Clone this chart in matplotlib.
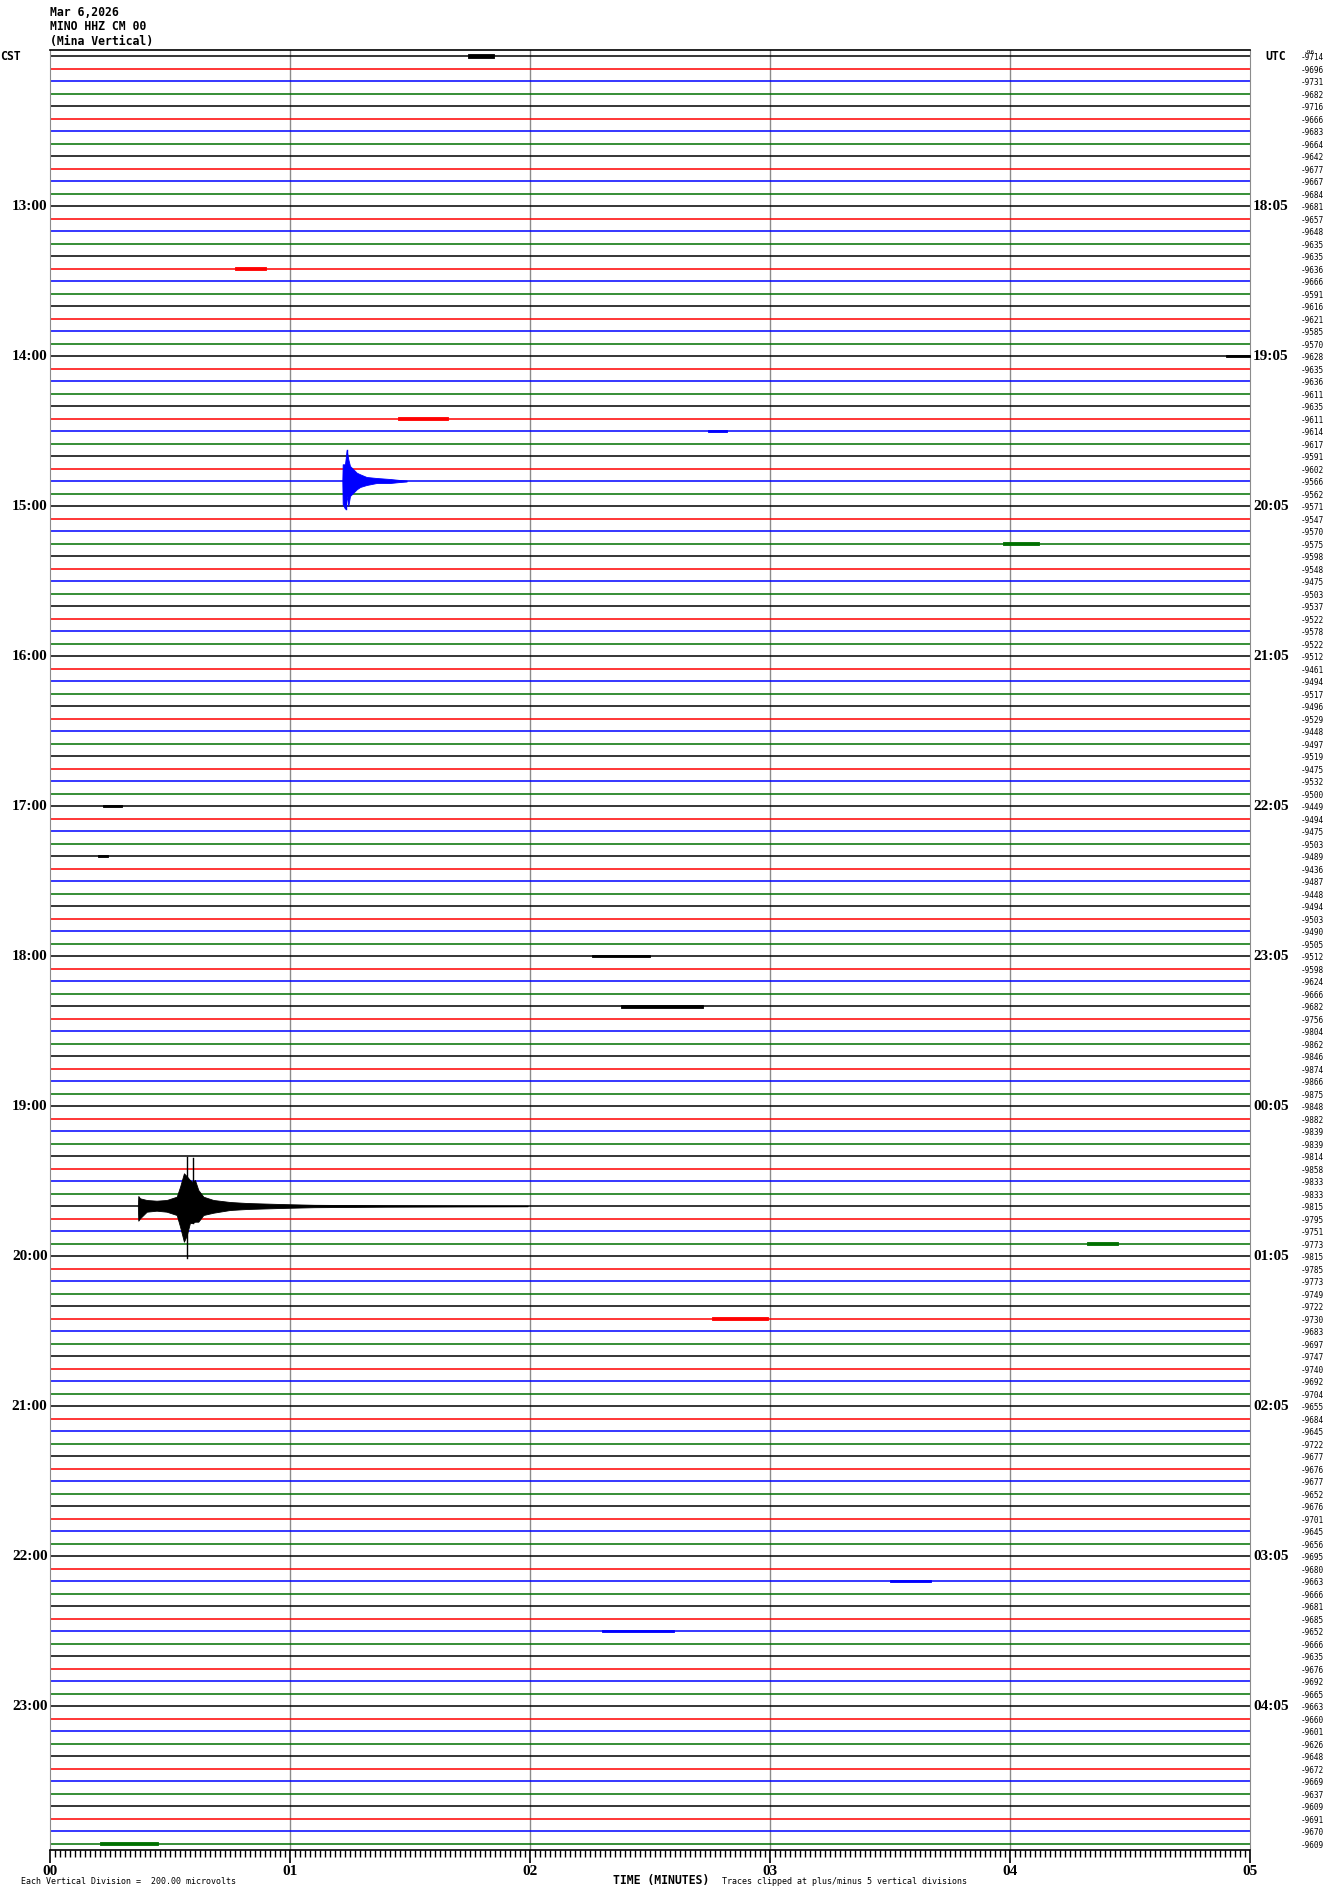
import matplotlib.pyplot as plt
import numpy as np

# helicorder: 144 traces of 5 minutes, 12:00 - 23:55 CST
n_traces = 144
trace_colors = ['#000000', '#ff0000', '#0000ff', '#007000']

cst_hours = ['13:00', '14:00', '15:00', '16:00', '17:00', '18:00',
             '19:00', '20:00', '21:00', '22:00', '23:00']
utc_hours = ['18:05', '19:05', '20:05', '21:05', '22:05', '23:05',
             '00:05', '01:05', '02:05', '03:05', '04:05']
minute_labels = ['00', '01', '02', '03', '04', '05']

counts = [
    -9714, -9696, -9731, -9682, -9716, -9666, -9683, -9664, -9642, -9677, -9667, -9684,
    -9681, -9657, -9648, -9635, -9635, -9636, -9666, -9591, -9616, -9621, -9585, -9570,
    -9628, -9635, -9636, -9611, -9635, -9611, -9614, -9617, -9591, -9602, -9566, -9562,
    -9571, -9547, -9570, -9575, -9598, -9548, -9475, -9503, -9537, -9522, -9578, -9522,
    -9512, -9461, -9494, -9517, -9496, -9529, -9448, -9497, -9519, -9475, -9532, -9500,
    -9449, -9494, -9475, -9503, -9489, -9436, -9487, -9448, -9494, -9503, -9490, -9505,
    -9512, -9598, -9624, -9666, -9682, -9756, -9804, -9862, -9846, -9874, -9866, -9875,
    -9848, -9882, -9839, -9839, -9814, -9858, -9833, -9833, -9815, -9795, -9751, -9773,
    -9815, -9785, -9773, -9749, -9722, -9730, -9683, -9697, -9747, -9740, -9692, -9704,
    -9655, -9684, -9645, -9722, -9677, -9676, -9677, -9652, -9676, -9701, -9645, -9656,
    -9695, -9680, -9663, -9666, -9681, -9685, -9652, -9666, -9635, -9676, -9692, -9665,
    -9663, -9660, -9601, -9626, -9648, -9672, -9669, -9637, -9609, -9691, -9670, -9609,
]

# small bursts: trace, start/end minute, half amplitude (pixels)
burst_trace = [0, 17, 29, 30, 39, 60, 64, 72, 76, 95, 101, 122, 126, 143, 24]
burst_start = [1.74, 0.77, 1.45, 2.74, 3.97, 0.22, 0.20, 2.26, 2.38, 4.32, 2.76, 3.50, 2.30, 0.21, 4.90]
burst_end = [1.85, 0.90, 1.66, 2.82, 4.12, 0.30, 0.24, 2.50, 2.72, 4.45, 2.99, 3.67, 2.60, 0.45, 5.00]
burst_amp = [2, 1.2, 1.4, 1, 1.2, 1.2, 1.2, 1, 1.5, 1.2, 1.2, 1.2, 1.2, 1.5, 1.2]

# local quake on the blue trace at 14:50 (envelope, pixels)
quake_blue_trace = 34
quake_blue_t = [1.218, 1.2195, 1.229, 1.236, 1.243, 1.25, 1.264, 1.278, 1.292,
                1.319, 1.361, 1.417, 1.458, 1.486]
quake_blue_up = [0, 16.7, 16.7, 30.7, 21.7, 15, 11.7, 8.3, 6.7, 4, 3, 2, 1, 0.5]
quake_blue_dn = [0, 23, 27.7, 15, 25, 15, 11.7, 8.3, 6, 4, 2, 2, 1, 0.5]

# larger quake on the black trace at 19:40 (envelope, pixels)
quake_black_trace = 92
quake_black_t = [0.366, 0.368, 0.375, 0.403, 0.444, 0.486, 0.528, 0.542, 0.558,
                 0.569, 0.583, 0.594, 0.604, 0.618, 0.639, 0.681, 0.75, 0.82,
                 0.958, 1.1, 1.4, 1.99]
quake_black_up = [0, 10, 7.7, 6, 5.3, 6, 9.3, 19.3, 32.7, 30, 26, 24, 26, 16,
                  9.3, 6, 4, 3, 2, 1.2, 0.7, 0.3]
quake_black_dn = [0, 14.7, 12.3, 5.7, 4.7, 5.7, 9, 20.7, 35.7, 30, 17, 17,
                  15.7, 15.7, 9, 6.7, 4, 3, 2, 1.2, 0.7, 0.3]
spike_t = [0.569, 0.594, 1.236, 1.232]
spike_trace = [92, 92, 34, 34]
spike_up = [49.3, 47.7, 30.7, 10]
spike_dn = [52.3, 17, 10, 27.7]

PX = 12.5  # pixels between traces

fig = plt.figure(figsize=(13.3, 18.94), dpi=100)
ax = fig.add_axes([50 / 1330, 1 - 1850 / 1894, 1200 / 1330, 1800 / 1894])
ax.set_xlim(0, 5)
ax.set_ylim(143.52, -0.48)

for m in range(1, 5):
    ax.axvline(m, color='#8c8c8c', lw=1.0, zorder=1)

for i in range(n_traces):
    ax.plot([0, 5], [i, i], color=trace_colors[i % 4], lw=1.1, zorder=2)

for tr, t0, t1, a in zip(burst_trace, burst_start, burst_end, burst_amp):
    ax.fill_between([t0, t1], [tr - a / PX] * 2, [tr + a / PX] * 2,
                    color=trace_colors[tr % 4], lw=0.6, zorder=3)

for tr, t, up, dn in [(quake_blue_trace, quake_blue_t, quake_blue_up, quake_blue_dn),
                      (quake_black_trace, quake_black_t, quake_black_up, quake_black_dn)]:
    t = np.array(t)
    ax.fill_between(t, tr - np.array(up) / PX, tr + np.array(dn) / PX,
                    color=trace_colors[tr % 4], lw=0.6, zorder=3)

for t, tr, up, dn in zip(spike_t, spike_trace, spike_up, spike_dn):
    ax.plot([t, t], [tr - up / PX, tr + dn / PX], color=trace_colors[tr % 4],
            lw=1.0, zorder=3)

# hour labels
for k, (c, u) in enumerate(zip(cst_hours, utc_hours)):
    y = 12 * (k + 1)
    ax.text(-0.01, y, c, ha='right', va='center', fontsize=11,
            family='Liberation Serif', weight='bold')
    ax.text(5.013, y, u, ha='left', va='center', fontsize=11,
            family='Liberation Serif', weight='bold')

for i, v in enumerate(counts):
    ax.text(5.21, i + 0.12, str(v), ha='left', va='center', fontsize=5.6,
            family='DejaVu Sans Mono')
ax.text(5.225, -0.3, '-96', ha='left', va='center', fontsize=4.5,
        family='DejaVu Sans Mono')

# frame and axis
for s in ['left', 'right']:
    ax.spines[s].set_color('#8c8c8c')
ax.spines['top'].set_linewidth(1.2)
ax.spines['bottom'].set_linewidth(1.2)
ax.set_yticks([])
ax.set_xticks(range(6))
ax.set_xticklabels(minute_labels, family='Liberation Serif', weight='bold', fontsize=11)
ax.set_xticks(np.arange(0, 5.01, 1 / 48), minor=True)
ax.tick_params(axis='x', which='major', length=9, width=1.2, pad=2)
ax.tick_params(axis='x', which='minor', length=5, width=1.0)

mono = 'DejaVu Sans Mono'
fig.text(50 / 1330, 1 - 12 / 1894, 'Mar 6,2026', fontsize=8.3, family=mono,
         weight='bold', va='center')
fig.text(50 / 1330, 1 - 27 / 1894, 'MINO HHZ CM 00', fontsize=8.3, family=mono,
         weight='bold', va='center')
fig.text(50 / 1330, 1 - 42 / 1894, '(Mina Vertical)', fontsize=8.3, family=mono,
         weight='bold', va='center')
fig.text(0, 1 - 57 / 1894, 'CST', fontsize=8.3, family=mono, weight='bold', va='center')
fig.text(1265 / 1330, 1 - 57 / 1894, 'UTC', fontsize=8.3, family=mono, weight='bold',
         va='center')
fig.text(21 / 1330, 1 - 1881 / 1894, 'Each Vertical Division =  200.00 microvolts',
         fontsize=6, family=mono, va='center')
fig.text(613 / 1330, 1 - 1880 / 1894, 'TIME (MINUTES)', fontsize=8.3,
         family=mono, weight='bold', va='center')
fig.text(722 / 1330, 1 - 1881 / 1894,
         'Traces clipped at plus/minus 5 vertical divisions',
         fontsize=6, family=mono, va='center')

fig.savefig('out.png', dpi=100)
plt.close(fig)
